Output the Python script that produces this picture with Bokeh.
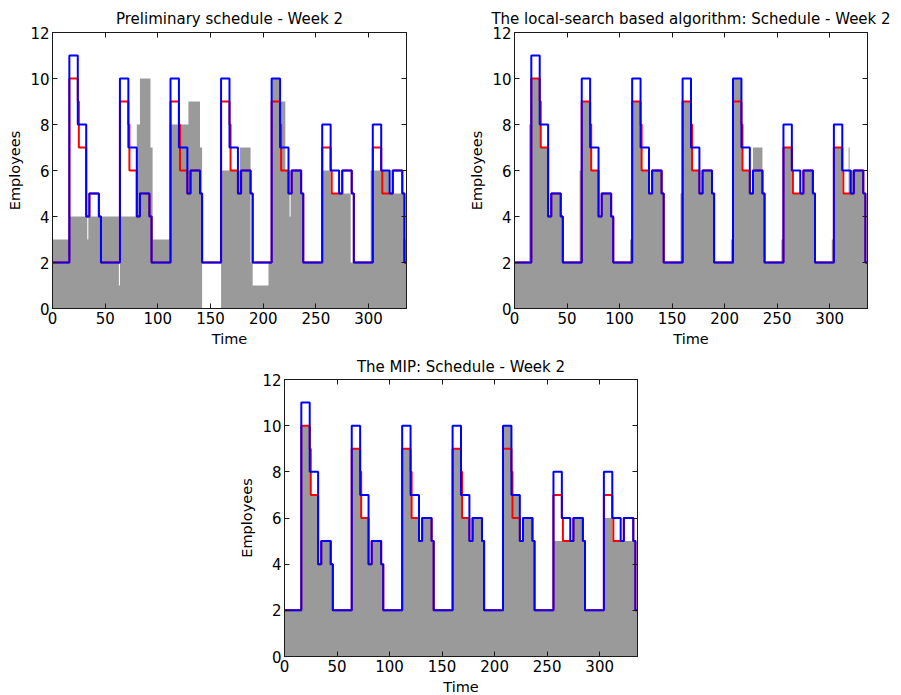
from bokeh.plotting import figure
from bokeh.layouts import column, row
from bokeh.models import Range1d, FixedTicker, LinearAxis, Spacer
from bokeh.embed import file_html
from bokeh.resources import INLINE

# ---------------- data (half-hour slots of week 2) ----------------
T_MAX = 336
x_ticks = [0, 50, 100, 150, 200, 250, 300]
y_ticks = [0, 2, 4, 6, 8, 10, 12]

titles = ["Preliminary schedule - Week 2",
          "The local-search based algorithm: Schedule - Week 2",
          "The MIP: Schedule - Week 2"]

# blue staircase: step start times and levels
upper_t = [0,
           16, 24, 32, 35, 44, 46,
           64, 72, 80, 83, 92, 94,
           112, 120, 128, 131, 140, 142,
           160, 168, 176, 179, 188, 190,
           208, 216, 224, 227, 236, 238,
           256, 264, 272, 275, 284, 286,
           304, 312, 320, 323, 332, 334]
upper_v = [2,
           11, 8, 4, 5, 4, 2,
           10, 7, 4, 5, 4, 2,
           10, 7, 5, 6, 5, 2,
           10, 7, 5, 6, 5, 2,
           10, 7, 5, 6, 5, 2,
           8, 6, 5, 6, 5, 2,
           8, 6, 5, 6, 5, 2]

# red staircase
demand_t = [0,
            16, 24, 25, 32, 35, 44, 46,
            64, 72, 73, 80, 83, 92, 94,
            112, 120, 121, 128, 131, 140, 142,
            160, 168, 169, 176, 179, 188, 190,
            208, 216, 217, 224, 227, 236, 238,
            256, 264, 265, 272, 275, 284, 286,
            304, 312, 313, 320, 323, 332, 334]
demand_v = [2,
            10, 9, 7, 4, 5, 4, 2,
            9, 8, 6, 4, 5, 4, 2,
            9, 8, 6, 5, 6, 5, 2,
            9, 8, 6, 5, 6, 5, 2,
            9, 8, 6, 5, 6, 5, 2,
            7, 6, 5, 5, 6, 5, 2,
            7, 6, 5, 5, 6, 5, 2]

# grey areas (scheduled employees)
prelim_t = [0, 16, 33, 34, 63, 64, 80, 83, 93, 95, 111, 129, 140, 142,
            160, 178, 188, 190, 205, 208, 215, 221, 225, 226, 236, 237,
            256, 264, 283, 302, 320, 333]
prelim_v = [3, 4, 3, 4, 1, 4, 8, 10, 7, 3, 8, 9, 7, 0,
            6, 7, 2, 1, 2, 10, 9, 6, 4, 6, 5, 2,
            6, 5, 2, 6, 5, 3]

local_t = [0, 14, 16, 24, 25, 32, 35, 44, 46,
           62, 64, 72, 73, 80, 83, 92, 94,
           110, 112, 120, 121, 128, 131, 140, 142,
           158, 160, 168, 169, 176, 179, 188, 190,
           206, 208, 216, 217, 224, 227, 236, 238,
           254, 256, 264, 275, 284, 286,
           302, 304, 312, 318, 319, 332, 334]
local_v = [2, 8, 10, 9, 7, 4, 5, 4, 2,
           6, 9, 8, 6, 4, 5, 4, 2,
           3, 9, 8, 6, 5, 6, 5, 2,
           5, 9, 8, 6, 5, 6, 5, 2,
           3, 10, 8, 6, 5, 7, 5, 2,
           3, 7, 5, 6, 5, 2,
           3, 7, 5, 7, 6, 5, 2]

mip_t = [0, 16, 24, 25, 32, 35, 44, 46,
         64, 72, 73, 80, 83, 92, 94,
         112, 120, 121, 128, 131, 140, 142,
         160, 168, 169, 176, 179, 188, 190,
         208, 216, 224, 227, 236, 238,
         256, 275, 284, 286,
         304, 312, 334]
mip_v = [2, 10, 9, 7, 4, 5, 4, 2,
         9, 8, 6, 4, 5, 4, 2,
         9, 8, 6, 5, 6, 5, 2,
         9, 8, 6, 5, 6, 5, 2,
         10, 7, 5, 6, 5, 2,
         5, 6, 5, 2,
         6, 5, 2]

GREY = "#9a9a9a"
AXC = "#1a1a1a"
FONT = "DejaVu Sans"
TICK_FS = "15px"
LABEL_FS = "14.5px"
TITLE_FS = "15px"


def step_xy(ts, vs):
    return list(ts) + [T_MAX], list(vs) + [vs[-1]]


def area_xy(ts, vs):
    bounds = list(ts) + [T_MAX]
    xs, ys = [0], [0]
    for i, v in enumerate(vs):
        xs += [bounds[i], bounds[i + 1]]
        ys += [v, v]
    xs.append(T_MAX)
    ys.append(0)
    return xs, ys


def style_axis(ax, hidden=False):
    ax.major_tick_in = 5
    ax.major_tick_out = 0
    ax.minor_tick_line_color = None
    ax.axis_line_color = AXC
    ax.major_tick_line_color = AXC
    ax.major_label_text_font = FONT
    if hidden:
        ax.major_label_text_font_size = "1px"
        ax.major_label_text_color = None
        ax.major_label_standoff = 0
    else:
        ax.major_label_text_font_size = TICK_FS
        ax.major_label_text_color = "black"
        ax.major_label_standoff = 3
    ax.axis_label_text_font = FONT
    ax.axis_label_text_font_size = LABEL_FS
    ax.axis_label_text_font_style = "normal"
    ax.axis_label_text_color = "black"
    ax.axis_label_standoff = 4


def make_fig(title, gt, gv, fw, fh, ml, mr, mt, mb, title_standoff):
    p = figure(frame_width=fw, frame_height=fh,
               x_range=Range1d(0, T_MAX), y_range=Range1d(0, 12),
               output_backend="svg", toolbar_location=None,
               min_border_left=ml, min_border_right=mr,
               min_border_top=mt, min_border_bottom=mb,
               title=title)
    p.title.text_font = FONT
    p.title.text_font_size = TITLE_FS
    p.title.text_font_style = "normal"
    p.title.text_color = "black"
    p.title.align = "center"
    p.title.standoff = title_standoff
    p.grid.visible = False
    p.outline_line_color = AXC
    p.background_fill_color = "white"
    p.border_fill_color = "white"

    p.xaxis.ticker = FixedTicker(ticks=x_ticks)
    p.yaxis.ticker = FixedTicker(ticks=y_ticks)
    p.xaxis.axis_label = "Time"
    p.yaxis.axis_label = "Employees"
    for ax in list(p.xaxis) + list(p.yaxis):
        style_axis(ax)
    ra = LinearAxis(ticker=FixedTicker(ticks=y_ticks))
    ta = LinearAxis(ticker=FixedTicker(ticks=x_ticks))
    style_axis(ra, hidden=True)
    style_axis(ta, hidden=True)
    p.add_layout(ra, "right")
    p.add_layout(ta, "above")

    ax_, ay_ = area_xy(gt, gv)
    p.patch(ax_, ay_, fill_color=GREY, line_color=None)
    rx, ry = step_xy(demand_t, demand_v)
    p.step(rx, ry, mode="after", line_color="#ff0000", line_width=2)
    bx, by = step_xy(upper_t, upper_v)
    p.step(bx, by, mode="after", line_color="#0000ff", line_width=2)
    return p


p1 = make_fig(titles[0], prelim_t, prelim_v, 354, 276, 52, 56, 32, 44, 10)
p2 = make_fig(titles[1], local_t, local_v, 353, 276, 52, 33, 32, 44, 10)
p3 = make_fig(titles[2], mip_t, mip_v, 353, 277, 52, 10, 27, 37, 7)

layout = column(row(p1, p2), row(Spacer(width=232, height=10), p3))

open("out.html", "w").write(file_html(layout, INLINE))
